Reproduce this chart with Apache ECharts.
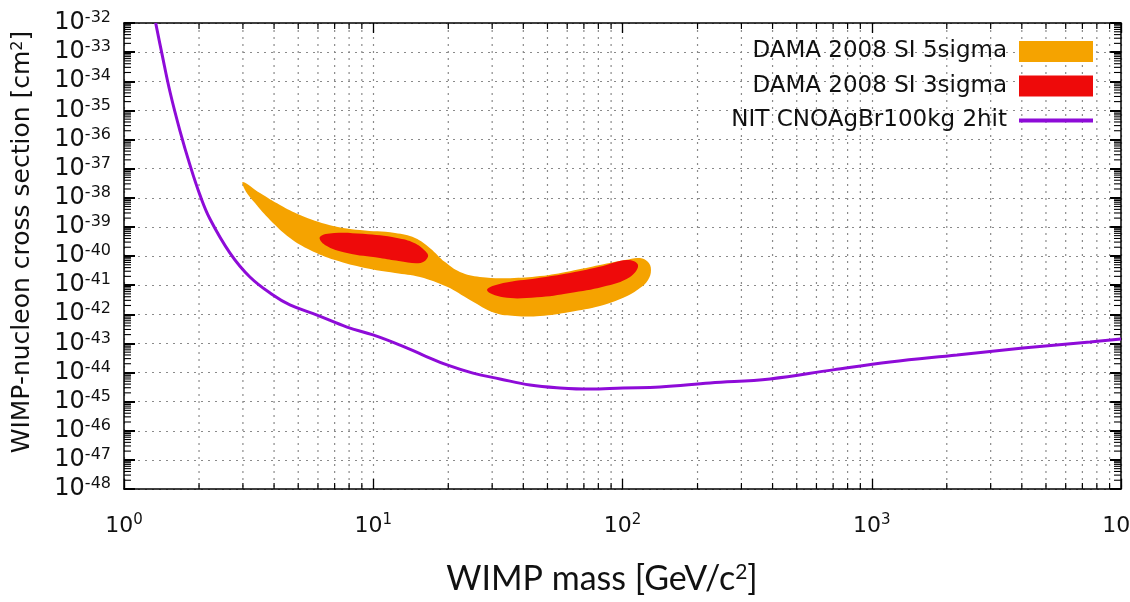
<!DOCTYPE html>
<html><head><meta charset="utf-8">
<script src="https://cdn.jsdelivr.net/npm/echarts@6/dist/echarts.min.js"></script>
<style>html,body{margin:0;padding:0;background:#fff}#c{width:1130px;height:602px}</style>
</head><body><div id="c"></div>
<script>
// ---- data (mass in GeV/c^2, cross section as log10 exponent of cm^2) ----
const xTickExponents = [0, 1, 2, 3, 4];
const yTickExponents = [-48, -47, -46, -45, -44, -43, -42, -41, -40, -39, -38, -37, -36, -35, -34, -33, -32];

const nitMass = [1.34, 1.42, 1.53, 1.678, 1.84, 2.018, 2.213, 2.663, 3.20, 3.96, 4.63, 5.95, 7.85, 9.98, 12.81, 15.84, 19.77, 25.13, 32.24, 42.56, 56.15, 74.07, 100.5, 141.4, 224.4, 390.8, 699, 1184, 2198, 4045, 7510, 10000];
const nitSigmaExp = [-32.0, -33.06, -34.37, -35.71, -36.88, -37.91, -38.73, -39.90, -40.72, -41.34, -41.68, -42.03, -42.44, -42.71, -43.06, -43.40, -43.74, -44.02, -44.22, -44.43, -44.53, -44.57, -44.53, -44.50, -44.36, -44.22, -43.91, -43.64, -43.40, -43.16, -42.95, -42.85];

const dama5Mass = [3.00, 3.513, 4.226, 5.083, 6.707, 8.846, 12.23, 14.71, 16.90, 19.41, 22.28, 26.81, 35.38, 46.67, 61.56, 81.22, 102.3, 117.5, 126.6, 130.1, 126.6, 117.5, 102.3, 81.22, 61.56, 46.67, 37.05, 30.80, 24.44, 19.77, 15.40, 12.23, 9.267, 7.023, 5.575, 4.634, 3.853, 3.354, 3.059];
const dama5SigmaExp = [-37.46, -37.84, -38.25, -38.59, -38.94, -39.11, -39.21, -39.38, -39.73, -40.21, -40.55, -40.72, -40.76, -40.69, -40.52, -40.31, -40.14, -40.07, -40.21, -40.48, -40.82, -41.10, -41.41, -41.72, -41.92, -42.06, -42.06, -41.96, -41.51, -41.06, -40.72, -40.58, -40.41, -40.14, -39.79, -39.38, -38.76, -38.18, -37.73];

const dama3aMass = [6.11, 6.97, 9.10, 12.45, 14.60, 16.17, 16.58, 15.50, 12.65, 10.64, 7.85, 6.40];
const dama3aSigmaExp = [-39.35, -39.21, -39.24, -39.38, -39.55, -39.83, -40.03, -40.24, -40.17, -40.07, -39.90, -39.62];

const dama3bMass = [28.6, 33.2, 45.4, 61.6, 83.5, 104.2, 115.4, 107.2, 83.5, 61.6, 45.4, 33.2];
const dama3bSigmaExp = [-41.17, -40.93, -40.76, -40.58, -40.34, -40.14, -40.31, -40.72, -41.06, -41.27, -41.42, -41.42];

const seriesNames = ['DAMA 2008 SI 5sigma', 'DAMA 2008 SI 3sigma', 'NIT CNOAgBr100kg 2hit'];

// ---- helpers ----
const toXY = (ms, ss) => ms.map((m, i) => [Math.log10(m), ss[i]]);
const FONT = 'DejaVu Sans';
const minorX = [];
for (let n = xTickExponents[0]; n < xTickExponents[xTickExponents.length - 1]; n++)
  for (let k = 2; k <= 9; k++) minorX.push([n + Math.log10(k), -48]);
const minorY = [];
for (let n = yTickExponents[0]; n < yTickExponents[yTickExponents.length - 1]; n++)
  for (let k = 2; k <= 9; k++) minorY.push([0, n + Math.log10(k)]);

const gridDash = [2, 5];
const gridColor = '#8a8a8a';

function polygonSeries(name, pts, color, z) {
  return {
    type: 'custom', name, coordinateSystem: 'cartesian2d', z, clip: true, silent: true,
    itemStyle: { color },
    encode: { x: 0, y: 1 },
    data: pts,
    renderItem: (params, api) => {
      if (params.dataIndex !== 0) return null;
      return {
        type: 'polygon',
        shape: { points: pts.map(p => api.coord(p)), smooth: 0.4 },
        style: { fill: color }
      };
    }
  };
}

const richY = {
  b: { fontFamily: FONT, fontSize: 24, lineHeight: 26, color: '#111' },
  s: { fontFamily: FONT, fontSize: 16, lineHeight: 15, verticalAlign: 'top', color: '#111' }
};
const richX = {
  b: { fontFamily: FONT, fontSize: 22, lineHeight: 26, color: '#111' },
  s: { fontFamily: FONT, fontSize: 15, lineHeight: 15, verticalAlign: 'top', color: '#111' }
};
const expLabel = v => '{b|10}{s|' + v + '}';

const chart = echarts.init(document.getElementById('c'), null, { renderer: 'canvas' });
chart.setOption({
  animation: false,
  backgroundColor: '#fff',
  grid: { left: 124, right: 9, top: 23, bottom: 113, containLabel: false, outerBoundsMode: 'none' },
  xAxis: [
    {
      type: 'value', min: xTickExponents[0], max: xTickExponents[xTickExponents.length - 1], interval: 1,
      axisLine: { show: true, onZero: false, lineStyle: { color: '#000', width: 1.5 } },
      axisTick: { show: true, inside: true, length: 10, lineStyle: { color: '#000', width: 1.3 } },
      axisLabel: { formatter: expLabel, rich: richX, margin: 24, showMinLabel: true, showMaxLabel: true },
      splitLine: { show: true, lineStyle: { color: gridColor, type: gridDash, width: 1.2 } }
    },
    {
      type: 'value', position: 'top', min: xTickExponents[0], max: xTickExponents[xTickExponents.length - 1], interval: 1,
      axisLine: { show: true, onZero: false, lineStyle: { color: '#000', width: 1.5 } },
      axisTick: { show: true, inside: true, length: 10, lineStyle: { color: '#000', width: 1.3 } },
      axisLabel: { show: false }, splitLine: { show: false }
    }
  ],
  yAxis: [
    {
      type: 'value', min: yTickExponents[0], max: yTickExponents[yTickExponents.length - 1], interval: 1,
      axisLine: { show: true, onZero: false, lineStyle: { color: '#000', width: 1.5 } },
      axisTick: { show: true, inside: true, length: 11, lineStyle: { color: '#000', width: 2 } },
      axisLabel: { formatter: expLabel, rich: richY, margin: 13 },
      splitLine: { show: true, lineStyle: { color: gridColor, type: gridDash, width: 1.2 } }
    },
    {
      type: 'value', position: 'right', min: yTickExponents[0], max: yTickExponents[yTickExponents.length - 1], interval: 1,
      axisLine: { show: true, onZero: false, lineStyle: { color: '#000', width: 1.5 } },
      axisTick: { show: true, inside: true, length: 11, lineStyle: { color: '#000', width: 2 } },
      axisLabel: { show: false }, splitLine: { show: false }
    }
  ],
  legend: {
    orient: 'vertical', right: 37, top: 40, align: 'right', padding: 0,
    itemWidth: 74, itemHeight: 21, itemGap: 11.5, selectedMode: false,
    textStyle: { fontFamily: FONT, fontSize: 23, color: '#111', lineHeight: 21, padding: [0, 7, 0, 0] },
    data: [
      { name: seriesNames[0], icon: 'rect' },
      { name: seriesNames[1], icon: 'rect' },
      { name: seriesNames[2], icon: 'path://M0,0L0,0M0,8.5L74,8.5L74,12.5L0,12.5ZM74,21L74,21', itemStyle: { borderWidth: 0 } }
    ]
  },
  series: [
    {
      type: 'custom', name: 'minorX', coordinateSystem: 'cartesian2d', silent: true, z: 1, clip: false,
      encode: { x: 0, y: 1 }, data: minorX,
      renderItem: (params, api) => {
        const cs = params.coordSys;
        const x = api.coord([api.value(0), -48])[0];
        const top = cs.y, bot = cs.y + cs.height;
        return {
          type: 'group', children: [
            { type: 'line', shape: { x1: x, y1: top, x2: x, y2: bot }, style: { stroke: gridColor, lineWidth: 1.2, lineDash: gridDash } },
            { type: 'line', shape: { x1: x, y1: bot, x2: x, y2: bot - 6 }, style: { stroke: '#000', lineWidth: 1.2 } },
            { type: 'line', shape: { x1: x, y1: top, x2: x, y2: top + 6 }, style: { stroke: '#000', lineWidth: 1.2 } }
          ]
        };
      }
    },
    {
      type: 'custom', name: 'minorY', coordinateSystem: 'cartesian2d', silent: true, z: 1, clip: false,
      encode: { x: 0, y: 1 }, data: minorY,
      renderItem: (params, api) => {
        const cs = params.coordSys;
        const y = api.coord([0, api.value(1)])[1];
        const l = cs.x, r = cs.x + cs.width;
        return {
          type: 'group', children: [
            { type: 'line', shape: { x1: l, y1: y, x2: l + 7, y2: y }, style: { stroke: '#000', lineWidth: 1.1 } },
            { type: 'line', shape: { x1: r, y1: y, x2: r - 7, y2: y }, style: { stroke: '#000', lineWidth: 1.1 } }
          ]
        };
      }
    },
    polygonSeries(seriesNames[0], toXY(dama5Mass, dama5SigmaExp), '#F5A300', 3),
    polygonSeries(seriesNames[1], toXY(dama3aMass, dama3aSigmaExp), '#EE0A0A', 4),
    polygonSeries(seriesNames[1], toXY(dama3bMass, dama3bSigmaExp), '#EE0A0A', 4),
    {
      type: 'line', name: seriesNames[2], data: toXY(nitMass, nitSigmaExp),
      smooth: 0.4, symbol: 'none', clip: true, z: 5,
      itemStyle: { color: '#8E0BD8' },
      lineStyle: { color: '#8E0BD8', width: 3 }
    }
  ],
  graphic: [
    {
      type: 'text', x: 22, y: 242, rotation: Math.PI / 2,
      style: {
        text: 'WIMP-nucleon cross section [cm{s|2}]',
        fontFamily: FONT, fontSize: 25, fill: '#111', align: 'center', verticalAlign: 'middle',
        rich: { s: { fontFamily: FONT, fontSize: 16, lineHeight: 16, verticalAlign: 'top', fill: '#111' } }
      }
    },
    {
      type: 'text', x: 602, y: 579,
      style: {
        text: 'WIMP mass [GeV/c{s|2}]',
        fontFamily: 'Lato', fontSize: 34, fill: '#111', align: 'center', verticalAlign: 'middle',
        rich: { s: { fontFamily: 'Lato', fontSize: 21, lineHeight: 20, verticalAlign: 'top', fill: '#111' } }
      }
    }
  ]
});
</script></body></html>
